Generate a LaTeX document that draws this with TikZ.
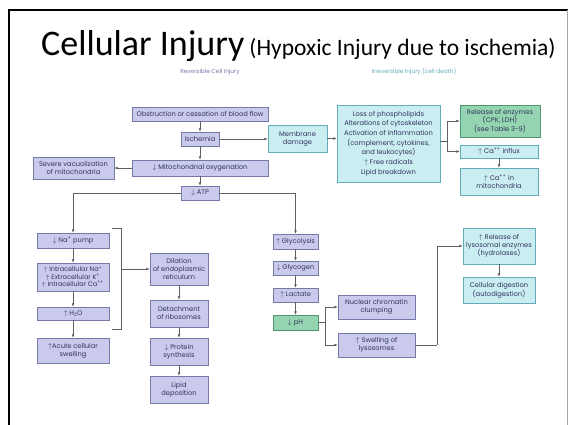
\documentclass[tikz,border=0pt]{standalone}
\usepackage{fontspec}
\setmainfont{Poppins}
\newfontfamily\titlefont{Carlito}
\usetikzlibrary{arrows.meta}
\definecolor{lavf}{RGB}{201,202,236}
\definecolor{lavd}{RGB}{118,120,170}
\definecolor{cyf}{RGB}{202,237,242}
\definecolor{cyd}{RGB}{100,172,184}
\definecolor{grf}{RGB}{148,212,176}
\definecolor{grd}{RGB}{80,150,115}
\definecolor{txt}{RGB}{50,52,92}
\definecolor{lc}{RGB}{95,95,105}
\newcommand\upa{$\uparrow$}
\newcommand\dna{$\downarrow$}
\begin{document}
\begin{tikzpicture}[x=1pt,y=-1pt,
  box/.style={draw, line width=0.6pt, inner sep=0pt, align=center,
    font=\fontsize{6.7}{8}\selectfont, text=txt},
  lav/.style={box, fill=lavf, draw=lavd},
  cyb/.style={box, fill=cyf, draw=cyd},
  grb/.style={box, fill=grf, draw=grd},
  ln/.style={draw=lc, line width=0.55pt},
  conn/.style={ln, -{Latex[length=3.4pt,width=2.8pt]}}]
\useasboundingbox (0,0) rectangle (568,425);
\fill[white] (0,0) rectangle (568,425);
% slide frame
\draw[line width=2pt] (9,425) -- (9,10) -- (568,10);
\draw[line width=0.8pt, gray!70] (567.5,10) -- (567.5,425);
% title
\node[anchor=base west, inner sep=0pt] (title) at (41,56)
  {\titlefont{\fontsize{36}{42}\selectfont Cellular Injury}\hspace{5pt}{\fontsize{23.5}{28}\selectfont (Hypoxic Injury due to ischemia)}};
\node[inner sep=0pt, text=lavd, font=\fontsize{5.8}{7}\selectfont] (rev) at (210,72) {Reversible Cell Injury};
\node[inner sep=0pt, text=cyd, font=\fontsize{5.8}{7}\selectfont] (irr) at (414,72) {Irreversible Injury (cell death)};
% nodes
\node[lav, minimum width=136, minimum height=14] (obs) at (200,114) {Obstruction or cessation of blood flow};
\node[lav, minimum width=38, minimum height=14] (isch) at (200,139) {Ischemia};
\node[lav, minimum width=81, minimum height=22] (vac) at (73.5,168) {Severe vacuolization\\of mitochondria};
\node[lav, minimum width=136, minimum height=16] (mito) at (200,168) {\dna\ Mitochondrial oxygenation};
\node[lav, minimum width=38, minimum height=14] (atp) at (200,193) {\dna\ ATP};
\node[cyb, minimum width=59, minimum height=27] (memb) at (297.5,138.5) {Membrane\\damage};
\node[cyb, minimum width=103, minimum height=77, font=\fontsize{6.7}{9.7}\selectfont] (big) at (388.5,143.5)
  {Loss of phospholipids\\Alterations of cytoskeleton\\Activation of inflammation\\(complement, cytokines,\\and leukocytes)\\\upa\ Free radicals\\Lipid breakdown};
\node[grb, minimum width=80, minimum height=32, font=\fontsize{6.7}{8.4}\selectfont] (rel) at (500,121) {Release of enzymes\\(CPK, LDH)\\(see Table 3-9)};
\node[cyb, minimum width=78, minimum height=13] (cain) at (499,151.5) {\upa\ Ca\textsuperscript{++} influx};
\node[cyb, minimum width=78, minimum height=27] (camit) at (499,181.5) {\upa\ Ca\textsuperscript{++} in\\mitochondria};
\node[lav, minimum width=72, minimum height=15] (na) at (73,240.5) {\dna\ Na\textsuperscript{+} pump};
\node[lav, minimum width=72, minimum height=28, font=\fontsize{6.5}{7.4}\selectfont] (intra) at (73,277)
  {\upa\ Intracellular Na\textsuperscript{+}\\\upa\ Extracellular K\textsuperscript{+}\\\upa\ Intracellular Ca\textsuperscript{++}};
\node[lav, minimum width=72, minimum height=13] (h2o) at (73,313.5) {\upa\ H\textsubscript{2}O};
\node[lav, minimum width=72, minimum height=25] (acute) at (73,350.5) {\upa Acute cellular\\swelling};
\node[lav, minimum width=58, minimum height=32] (dil) at (179,269) {Dilation\\of endoplasmic\\reticulum};
\node[lav, minimum width=58, minimum height=27] (det) at (179,313.5) {Detachment\\of ribosomes};
\node[lav, minimum width=58, minimum height=27] (prot) at (179,351.5) {\dna\ Protein\\synthesis};
\node[lav, minimum width=58, minimum height=27] (lipid) at (179,389.5) {Lipid\\deposition};
\node[lav, minimum width=45, minimum height=15] (glyc) at (295.5,241.5) {\upa\ Glycolysis};
\node[lav, minimum width=45, minimum height=14] (glycg) at (295.5,268) {\dna\ Glycogen};
\node[lav, minimum width=45, minimum height=14] (lact) at (295.5,295) {\upa\ Lactate};
\node[grb, minimum width=45, minimum height=15] (ph) at (295.5,322.5) {\dna\ pH};
\node[lav, minimum width=77, minimum height=24] (nuc) at (376.5,307) {Nuclear chromatin\\clumping};
\node[lav, minimum width=77, minimum height=24] (swell) at (376.5,345) {\upa\ Swelling of\\lysosomes};
\node[cyb, minimum width=72, minimum height=36] (rlys) at (499,246) {\upa\ Release of\\lysosomal enzymes\\(hydrolases)};
\node[cyb, minimum width=72, minimum height=26] (cell) at (499,290) {Cellular digestion\\(autodigestion)};
% connectors
\draw[conn] (obs) -- (isch);
\draw[conn] (isch) -- (mito);
\draw[conn] (mito) -- (atp);
\draw[conn] (mito) -- (vac);
\draw[conn] (isch.east) -- (isch.east -| memb.west);
\draw[conn] (memb) -- (memb -| big.west);
\coordinate (bj) at (447,141);
\draw[ln] (bj -| big.east) -- (bj);
\draw[conn] (bj) |- (rel.west);
\draw[conn] (bj) |- (cain.west);
\draw[conn] (cain) -- (camit);
\draw[conn] (atp.west) -| (na.north);
\draw[conn] (atp.east) -| (glyc.north);
\draw[conn] (na) -- (intra);
\draw[conn] (intra) -- (h2o);
\draw[conn] (h2o) -- (acute);
\coordinate (bt) at (121,228);
\coordinate (bb) at (121,329);
\coordinate (bm) at (121,269);
\draw[ln] ([xshift=-9pt]bt) -- (bt) -- (bb) -- ([xshift=-9pt]bb);
\draw[conn] (bm) -- (dil.west);
\draw[conn] (dil) -- (det);
\draw[conn] (det) -- (prot);
\draw[conn] (prot) -- (lipid);
\draw[conn] (glyc) -- (glycg);
\draw[conn] (glycg) -- (lact);
\draw[conn] (lact) -- (ph);
\coordinate (pj) at (325,322.5);
\draw[ln] (ph.east) -- (pj);
\draw[conn] (pj) |- (nuc.west);
\draw[conn] (pj) |- (swell.west);
\coordinate (sj) at (437,345);
\draw[ln] (swell.east) -- (sj);
\draw[conn] (sj) |- (rlys.west);
\draw[conn] (rlys) -- (cell);
\end{tikzpicture}
\end{document}
